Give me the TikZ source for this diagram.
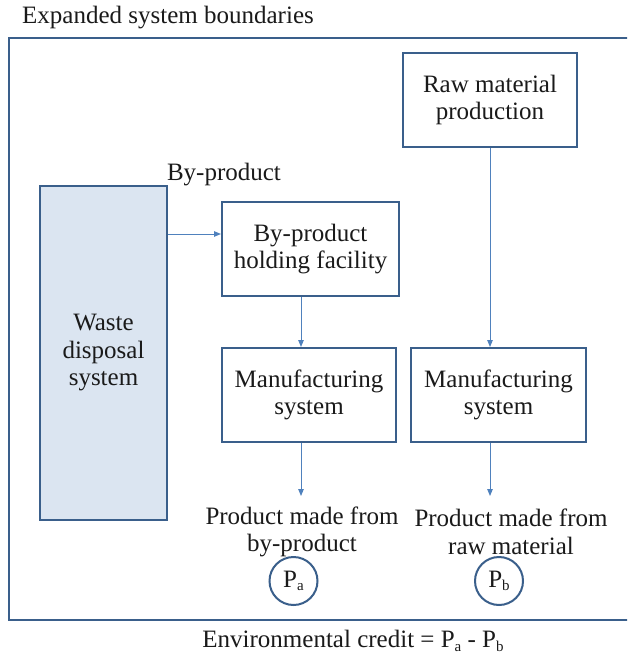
\documentclass[tikz,border=0pt]{standalone}
\usepackage{fontspec}
\setmainfont{Liberation Serif}
\usetikzlibrary{arrows.meta}
\definecolor{boxline}{HTML}{3A5F8B}
\definecolor{arrline}{HTML}{4F81BD}
\definecolor{wastefill}{HTML}{DBE5F1}
\definecolor{txt}{HTML}{1A1A1A}
\newcommand\subtxt[1]{\raisebox{-0.3ex}{\fontsize{15}{15}\selectfont #1}}
\tikzset{
  sysbox/.style={draw=boxline, line width=2pt, fill=white, align=center, inner sep=0pt, text=txt},
  lbl/.style={align=center, inner sep=0pt, text=txt},
  arr/.style={draw=arrline, line width=1pt, -{Triangle[length=7pt,width=5.5pt]}},
  pcirc/.style={draw=boxline, line width=2pt, circle, minimum size=48pt, inner sep=0pt, text=txt}
}
\begin{document}
\begin{tikzpicture}[x=1pt,y=-1pt, font=\fontsize{25}{27.5}\selectfont]
\clip (0,0) rectangle (627,655);
\fill[white] (0,0) rectangle (627,655);
\node[lbl, anchor=west] (title) at (22,18) {Expanded system boundaries};
\draw[boxline, line width=2pt] (640,38) -- (9,38) -- (9,620) -- (640,620);
\node[sysbox, minimum width=174pt, minimum height=94pt] (raw) at (490,100) {Raw material\\production};
\node[sysbox, fill=wastefill, minimum width=127pt, minimum height=334pt] (waste) at (103.5,353) {Waste\\disposal\\system};
\node[lbl] (bylbl) at (224,175) {By-product};
\node[sysbox, minimum width=177pt, minimum height=94pt] (hold) at (310.5,249) {By-product\\holding facility};
\node[sysbox, minimum width=174pt, minimum height=94pt] (m1) at (309,395) {Manufacturing\\system};
\node[sysbox, minimum width=175pt, minimum height=94pt] (m2) at (498.5,395) {Manufacturing\\system};
\node[lbl] (pa) at (302,532) {Product made from\\by-product};
\node[lbl] (pb) at (511,532) {Product made from\\raw material};
\node[pcirc] (ca) at (293.5,581) {P\subtxt{a}};
\node[pcirc] (cb) at (499,581) {P\subtxt{b}};
\node[lbl] (credit) at (353,641) {Environmental credit = P\subtxt{a} - P\subtxt{b}};
\coordinate (ea) at (301,496);
\coordinate (eb) at (490,496);
\draw[arr] ([yshift=15pt]waste.east |- hold.west) -- ([yshift=15pt]hold.west);
\draw[arr] ([xshift=-9.5pt]hold.south) -- ([xshift=-9.5pt]hold.south |- m1.north);
\draw[arr] (raw.south) -- (raw.south |- m2.north);
\draw[arr] (ea |- m1.south) -- (ea);
\draw[arr] (eb |- m2.south) -- (eb);
\end{tikzpicture}
\end{document}
